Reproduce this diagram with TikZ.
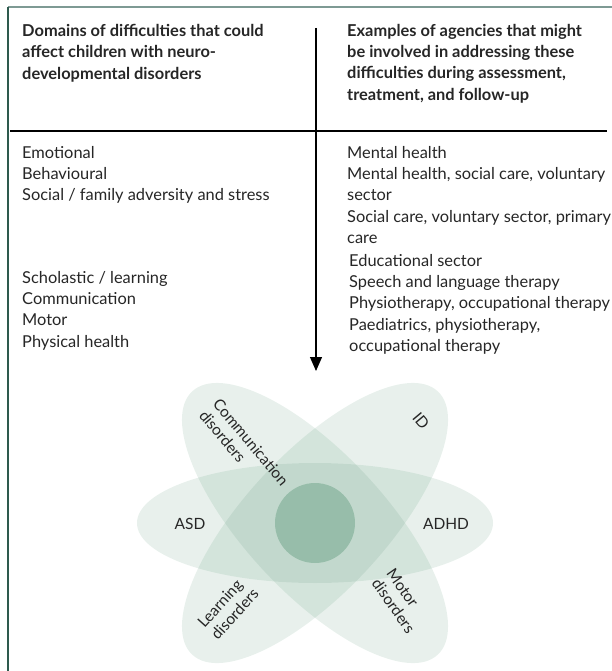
\documentclass[tikz,border=0pt]{standalone}
\usepackage{fontspec}
\setmainfont{Lato}
\usetikzlibrary{arrows.meta}
\definecolor{frameteal}{HTML}{2E5A4E}
\definecolor{framelight}{HTML}{7E9A94}
\definecolor{petal}{HTML}{4C8E6C}
\definecolor{ink}{HTML}{262626}
\begin{document}
\begin{tikzpicture}[x=1pt,y=-1pt,
  txt/.style={inner sep=0pt, anchor=north west, align=left, text=ink,
    font=\fontsize{16.4}{21.3}\selectfont},
  head/.style={txt, font=\fontsize{16.4}{21.3}\selectfont\bfseries},
  petalfill/.style={fill=petal, fill opacity=0.13},
  label/.style={inner sep=0pt, text=ink, align=left,
    font=\fontsize{15.5}{18}\selectfont}]
\useasboundingbox (0,0) rectangle (612,671);

% frame
\draw[framelight, line width=1.4pt] (8,7) -- (612,7);
\draw[frameteal, line width=1.6pt] (8,7) -- (8,671);

% column headings (top of first line sits about 12pt above its baseline)
\node[head] (hl) at (22,24) {Domains of difficulties that could\\affect children with neuro-\\developmental disorders};
\node[head] (hr) at (347,24) {Examples of agencies that might\\be involved in addressing these\\difficulties during assessment,\\treatment, and follow-up};

% rules
\coordinate (ruleL) at (10,131);
\coordinate (ruleR) at (607,131);
\draw[black, line width=2pt] (ruleL) -- (ruleR);
\coordinate (axisTop) at (316,28);
\coordinate (axisEnd) at (316,371);
\draw[black, line width=1.2pt, -{Triangle[width=12pt,length=14pt]}] (axisTop) -- (axisEnd);

% domains
\node[txt] (d1) at (22,146) {Emotional\\Behavioural\\Social / family adversity and stress};
\node[txt] (d2) at (22,271) {Scholastic / learning\\Communication\\Motor\\Physical health};

% agencies
\node[txt] (a1) at (347,146) {Mental health\\Mental health, social care, voluntary\\sector\\Social care, voluntary sector, primary\\care};
\node[txt] (a2) at (349,254) {Educational sector\\Speech and language therapy\\Physiotherapy, occupational therapy\\Paediatrics, physiotherapy,\\occupational therapy};

% petals
\coordinate (c) at (315,523);
\fill[petalfill] (c) ellipse [x radius=178pt, y radius=60pt];
\fill[petalfill, rotate around={-47:(c)}] (c) ellipse [x radius=180pt, y radius=70pt];
\fill[petalfill, rotate around={47:(c)}] (c) ellipse [x radius=180pt, y radius=70pt];
\fill[petal, fill opacity=0.36] (c) circle [radius=40pt];

% petal labels
\node[label] (asd) at (190,524) {ASD};
\node[label] (adhd) at (446,524) {ADHD};
\node[label, rotate=-50] (comm) at (244,448) {Communication\\disorders};
\node[label, rotate=-50] (id) at (421,421) {ID};
\node[label, rotate=48] (learn) at (228,608) {Learning\\disorders};
\node[label, rotate=-55] (motor) at (401,601) {Motor\\disorders};
\end{tikzpicture}
\end{document}
